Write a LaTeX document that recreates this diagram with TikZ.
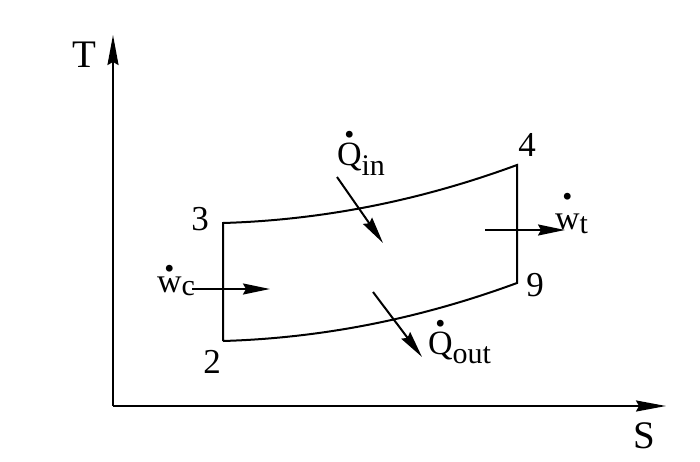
\documentclass[tikz,border=0pt]{standalone}
\usepackage{fontspec}
\setmainfont{Liberation Serif}
\usetikzlibrary{arrows.meta}
\newcommand\lowsub[2]{\raisebox{-#1}{#2}}
\newcommand\dotacc[2]{\ooalign{#1\cr\hidewidth\raisebox{#2}{\fontsize{42}{42}\selectfont\bfseries .}\hidewidth\cr}}
\begin{document}
\begin{tikzpicture}[x=1pt,y=-1pt,line width=2pt,
  tipd/.style={-{Stealth[length=27pt,width=11pt,inset=3pt]}},
  axis/.style={-{Stealth[length=30pt,width=11pt,inset=3pt]}},
  big/.style={font=\fontsize{39}{42}\selectfont,inner sep=0pt,anchor=base},
  num/.style={font=\fontsize{35}{38}\selectfont,inner sep=0pt,anchor=base},
  lab/.style={font=\fontsize{34}{38}\selectfont,inner sep=0pt,anchor=base west}]
\useasboundingbox (0,0) rectangle (700,462);
% axes
\coordinate (O) at (113,406);
\coordinate (Ttip) at (113,35);
\coordinate (Stip) at (666,406);
\draw[axis] (O) -- (Ttip);
\draw[axis] (O) -- (Stip);
\node[big] (Tlab) at (84,68) {T};
\node[big] (Slab) at (644,448) {S};
% cycle corners
\coordinate (p3) at (223,223);
\coordinate (p2) at (223,341);
\coordinate (p4) at (517,165);
\coordinate (p9) at (517,283);
\draw (p2) -- (p3) .. controls (324,220) and (422,200) .. (p4) -- (p9)
      .. controls (422,318) and (324,338) .. (p2);
\node[num] (n3) at (200,230) {3};
\node[num] (n2) at (212,373) {2};
\node[num] (n4) at (527,157) {4};
\node[num] (n9) at (535,296) {9};
% heat and work arrows
\coordinate (qa) at (337,177); \coordinate (qb) at (383,243);
\draw[tipd] (qa) -- (qb);
\coordinate (qc) at (373,292); \coordinate (qd) at (422,357);
\draw[tipd] (qc) -- (qd);
\coordinate (wa) at (485,230); \coordinate (wb) at (565,230);
\draw[tipd] (wa) -- (wb);
\coordinate (wc1) at (192,289); \coordinate (wc2) at (270,289);
\draw[tipd] (wc1) -- (wc2);
\node[lab] (Qin) at (336,166) {\dotacc{Q}{28pt}\lowsub{10pt}{\fontsize{30}{32}\selectfont in}};
\node[lab] (Qout) at (427,354) {\dotacc{Q}{28pt}\lowsub{9pt}{\fontsize{30}{32}\selectfont out}};
\node[lab] (Wc) at (156,292) {\dotacc{w}{21pt}\lowsub{3pt}{\fontsize{30}{32}\selectfont c}};
\node[lab] (Wt) at (554,229) {\dotacc{w}{29pt}\lowsub{5pt}{\fontsize{30}{32}\selectfont t}};
\end{tikzpicture}
\end{document}
